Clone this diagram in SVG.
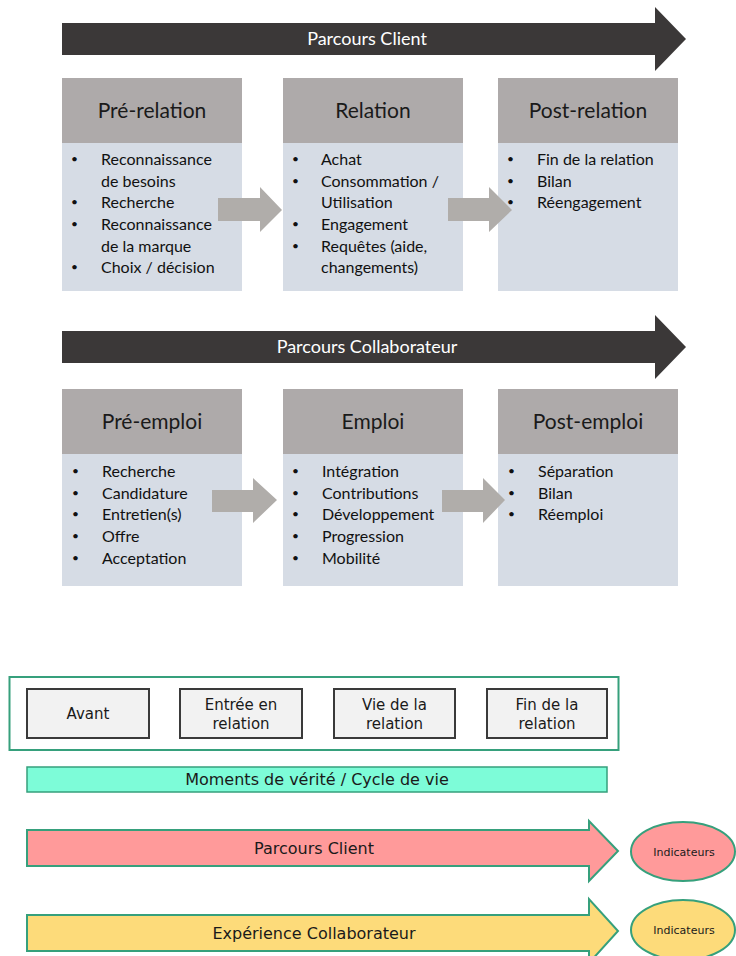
<svg xmlns="http://www.w3.org/2000/svg" width="736" height="956" viewBox="0 0 736 956">
<style>
.banner{fill:#3b3838}
.bannertxt{font-family:Lato,"Open Sans",sans-serif;font-size:18px;fill:#ffffff;text-anchor:middle}
.hdr{fill:#aeaaaa}
.body{fill:#d6dce5}
.title{font-family:Lato,"Open Sans",sans-serif;font-size:21px;fill:#1a1a1a;text-anchor:middle}
.item{font-family:Lato,"Open Sans",sans-serif;font-size:16px;fill:#111111}
.bul{font-family:Lato,"Open Sans",sans-serif;font-size:12px;fill:#111111}
.garrow{fill:#b0adaa}
.outer{fill:#ffffff;stroke:#36a07c;stroke-width:2}
.phase{fill:#f2f2f2;stroke:#3a3a3a;stroke-width:2}
.lbl{font-family:"DejaVu Sans",Verdana,sans-serif;font-size:15px;fill:#1a1a1a;text-anchor:middle}
.big{font-family:"DejaVu Sans",Verdana,sans-serif;font-size:16px;fill:#1a1a1a;text-anchor:middle}
.small{font-family:"DejaVu Sans",Verdana,sans-serif;font-size:11px;fill:#1a1a1a;text-anchor:middle}
.gstroke{stroke:#36a07c;stroke-width:2}
</style>

<g id="banner-client">
<polygon class="banner" points="62,23 655,23 655,7 686,39 655,71 655,55 62,55"/>
<text class="bannertxt" x="367" y="45">Parcours Client</text>
</g>

<g id="pre-relation">
<rect class="hdr" x="62" y="78" width="180" height="65"/>
<rect class="body" x="62" y="143" width="180" height="148"/>
<text class="title" x="152" y="118">Pré-relation</text>
<g class="item">
<text class="bul" x="71" y="163">•</text><text x="101" y="165">Reconnaissance</text>
<text x="101" y="187">de besoins</text>
<text class="bul" x="71" y="206">•</text><text x="101" y="208">Recherche</text>
<text class="bul" x="71" y="228">•</text><text x="101" y="230">Reconnaissance</text>
<text x="101" y="252">de la marque</text>
<text class="bul" x="71" y="271">•</text><text x="101" y="273">Choix / décision</text>
</g>
</g>

<g id="relation">
<rect class="hdr" x="283" y="78" width="180" height="65"/>
<rect class="body" x="283" y="143" width="180" height="148"/>
<text class="title" x="373" y="118">Relation</text>
<g class="item">
<text class="bul" x="292" y="163">•</text><text x="321" y="165">Achat</text>
<text class="bul" x="292" y="185">•</text><text x="321" y="187">Consommation /</text>
<text x="321" y="208">Utilisation</text>
<text class="bul" x="292" y="228">•</text><text x="321" y="230">Engagement</text>
<text class="bul" x="292" y="250">•</text><text x="321" y="252">Requêtes (aide,</text>
<text x="321" y="273">changements)</text>
</g>
</g>

<g id="post-relation">
<rect class="hdr" x="498" y="78" width="180" height="65"/>
<rect class="body" x="498" y="143" width="180" height="148"/>
<text class="title" x="588" y="118">Post-relation</text>
<g class="item">
<text class="bul" x="507" y="163">•</text><text x="537" y="165">Fin de la relation</text>
<text class="bul" x="507" y="185">•</text><text x="537" y="187">Bilan</text>
<text class="bul" x="507" y="206">•</text><text x="537" y="208">Réengagement</text>
</g>
</g>

<g id="banner-collab">
<polygon class="banner" points="62,331 655,331 655,315 686,347 655,379 655,363 62,363"/>
<text class="bannertxt" x="367" y="353">Parcours Collaborateur</text>
</g>

<g id="pre-emploi">
<rect class="hdr" x="62" y="389" width="180" height="65"/>
<rect class="body" x="62" y="454" width="180" height="132"/>
<text class="title" x="152" y="429">Pré-emploi</text>
<g class="item">
<text class="bul" x="72" y="475">•</text><text x="102" y="477">Recherche</text>
<text class="bul" x="72" y="497">•</text><text x="102" y="499">Candidature</text>
<text class="bul" x="72" y="518">•</text><text x="102" y="520">Entretien(s)</text>
<text class="bul" x="72" y="540">•</text><text x="102" y="542">Offre</text>
<text class="bul" x="72" y="562">•</text><text x="102" y="564">Acceptation</text>
</g>
</g>

<g id="emploi">
<rect class="hdr" x="283" y="389" width="180" height="65"/>
<rect class="body" x="283" y="454" width="180" height="132"/>
<text class="title" x="373" y="429">Emploi</text>
<g class="item">
<text class="bul" x="292" y="475">•</text><text x="322" y="477">Intégration</text>
<text class="bul" x="292" y="497">•</text><text x="322" y="499">Contributions</text>
<text class="bul" x="292" y="518">•</text><text x="322" y="520">Développement</text>
<text class="bul" x="292" y="540">•</text><text x="322" y="542">Progression</text>
<text class="bul" x="292" y="562">•</text><text x="322" y="564">Mobilité</text>
</g>
</g>

<g id="post-emploi">
<rect class="hdr" x="498" y="389" width="180" height="65"/>
<rect class="body" x="498" y="454" width="180" height="132"/>
<text class="title" x="588" y="429">Post-emploi</text>
<g class="item">
<text class="bul" x="508" y="475">•</text><text x="538" y="477">Séparation</text>
<text class="bul" x="508" y="497">•</text><text x="538" y="499">Bilan</text>
<text class="bul" x="508" y="518">•</text><text x="538" y="520">Réemploi</text>
</g>
</g>

<g id="connectors">
<polygon class="garrow" points="218,198 260,198 260,187 282,210 260,232 260,221 218,221"/>
<polygon class="garrow" points="448,198 489,198 489,187 512,210 489,232 489,221 448,221"/>
<polygon class="garrow" points="212,490 253,490 253,478 277,500 253,523 253,512 212,512"/>
<polygon class="garrow" points="442,490 483,490 483,478 505,500 483,523 483,512 442,512"/>
</g>

<g id="cycle-box">
<rect class="outer" x="9.5" y="677" width="609" height="73"/>
</g>
<g id="avant">
<rect class="phase" x="27" y="689" width="122" height="49"/>
<text class="lbl" x="88" y="719">Avant</text>
</g>
<g id="entree">
<rect class="phase" x="180" y="689" width="122" height="49"/>
<text class="lbl" x="241" y="710">Entrée en</text>
<text class="lbl" x="241" y="729">relation</text>
</g>
<g id="vie">
<rect class="phase" x="334" y="689" width="121" height="49"/>
<text class="lbl" x="394.5" y="710">Vie de la</text>
<text class="lbl" x="394.5" y="729">relation</text>
</g>
<g id="fin">
<rect class="phase" x="487" y="689" width="120" height="49"/>
<text class="lbl" x="547" y="710">Fin de la</text>
<text class="lbl" x="547" y="729">relation</text>
</g>

<g id="moments">
<rect x="27" y="767" width="580" height="25" fill="#7dfcd8" stroke="#36a07c" stroke-width="1.5"/>
<text class="big" x="317" y="785">Moments de vérité / Cycle de vie</text>
</g>

<g id="arrow-client">
<polygon class="gstroke" fill="#ff9a9a" points="27,830 589,830 589,821 618,851 589,881 589,866 27,866"/>
<text class="big" x="314" y="854">Parcours Client</text>
</g>
<g id="ind-client">
<ellipse class="gstroke" fill="#ff9a9a" cx="683" cy="851.5" rx="52" ry="29.5"/>
<text class="small" x="684" y="855.5">Indicateurs</text>
</g>

<g id="arrow-collab">
<polygon class="gstroke" fill="#fddb7a" points="27,915 589,915 589,899 618,931 589,963 589,951 27,951"/>
<text class="big" x="314" y="939">Expérience Collaborateur</text>
</g>
<g id="ind-collab">
<ellipse class="gstroke" fill="#fddb7a" cx="683" cy="930" rx="52" ry="30"/>
<text class="small" x="684" y="934">Indicateurs</text>
</g>
</svg>
